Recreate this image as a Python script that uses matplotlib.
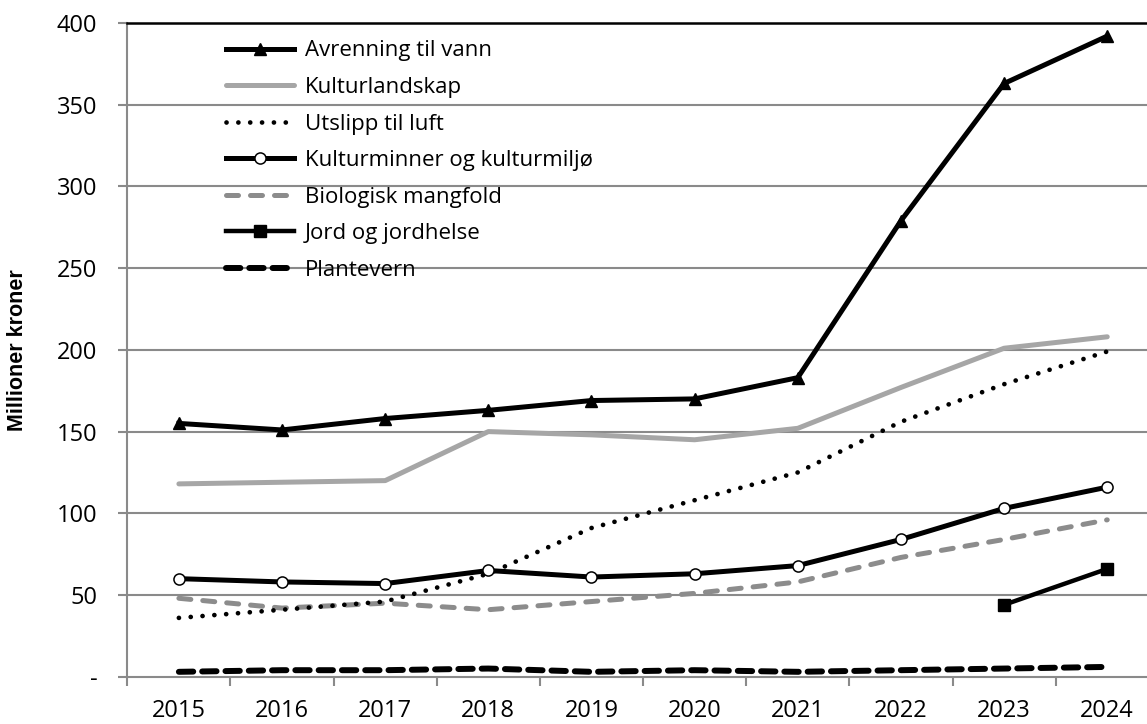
import numpy as np
import matplotlib.pyplot as plt

years = ['2015', '2016', '2017', '2018', '2019', '2020', '2021', '2022', '2023', '2024']

avrenning = [155, 151, 158, 163, 169, 170, 183, 279, 363, 392]
kulturlandskap = [118, 119, 120, 150, 148, 145, 152, 177, 201, 208]
utslipp = [36, 41, 46, 63, 91, 108, 125, 156, 179, 199]
kulturminner = [60, 58, 57, 65, 61, 63, 68, 84, 103, 116]
biologisk = [48, 42, 45, 41, 46, 51, 58, 73, 84, 96]
jord = [np.nan] * 8 + [44, 66]
plantevern = [3, 4, 4, 5, 3, 4, 3, 4, 5, 6]

plt.rcParams['font.family'] = ['Open Sans', 'DejaVu Sans']

fig = plt.figure(figsize=(11.47, 7.24), dpi=100)
ax = fig.add_axes([0.111, 0.0653, 0.8993, 0.9029])

x = np.arange(len(years))
grid_c = '#8a8a8a'

# gridlines
for yv in range(50, 400, 50):
    ax.axhline(yv, color=grid_c, lw=1.5, zorder=0)

ax.plot(x, avrenning, color='black', lw=3.6, marker='^', ms=9, label='Avrenning til vann', zorder=5)
ax.plot(x, kulturlandskap, color='#a6a6a6', lw=3.6, solid_capstyle='round', label='Kulturlandskap', zorder=3)
ax.plot(x, utslipp, color='black', lw=3.4, linestyle=(0, (0.01, 2.5)), dash_capstyle='round',
        label='Utslipp til luft', zorder=4)
ax.plot(x, kulturminner, color='black', lw=3.6, marker='o', ms=8, mfc='white', mec='black', mew=1.1,
        label='Kulturminner og kulturmiljø', zorder=5)
ax.plot(x, biologisk, color='#8c8c8c', lw=3.6, linestyle=(0, (2.4, 2.4)), dash_capstyle='round',
        label='Biologisk mangfold', zorder=3)
ax.plot(x, jord, color='black', lw=3.2, marker='s', ms=8.5, label='Jord og jordhelse', zorder=5)
ax.plot(x, plantevern, color='black', lw=4.3, linestyle=(0, (2.4, 1.5)), dash_capstyle='round',
        label='Plantevern', zorder=4)

ax.set_xlim(-0.5, 9.5)
ax.set_ylim(0, 400)
ax.set_xticks(x)
ax.set_xticklabels(years, fontsize=17)
ax.set_xticks(np.arange(-0.5, 10, 1), minor=True)
ax.tick_params(axis='x', which='major', length=0, pad=16)
ax.tick_params(axis='x', which='minor', length=6.5, width=1.5, color=grid_c)
ax.set_yticks(range(0, 401, 50))
ax.set_yticklabels(['-'] + [str(v) for v in range(50, 401, 50)], fontsize=17)
ax.tick_params(axis='y', length=6.5, width=1.5, color=grid_c, pad=15)

ax.spines['right'].set_visible(False)
ax.spines['top'].set_color('black')
ax.spines['top'].set_linewidth(1.8)
ax.spines['left'].set_color(grid_c)
ax.spines['left'].set_linewidth(1.5)
ax.spines['bottom'].set_color(grid_c)
ax.spines['bottom'].set_linewidth(1.5)

ax.set_ylabel('Millioner kroner', fontsize=15.5, fontweight='bold', family='Liberation Sans')
ax.yaxis.set_label_coords(-0.0965, 0.5)

leg = ax.legend(loc='upper left', bbox_to_anchor=(0.0761, 1.004), frameon=False, fontsize=16,
                handlelength=3.06, labelspacing=0.7, handletextpad=0.5)

fig.savefig('out.png', dpi=100)
